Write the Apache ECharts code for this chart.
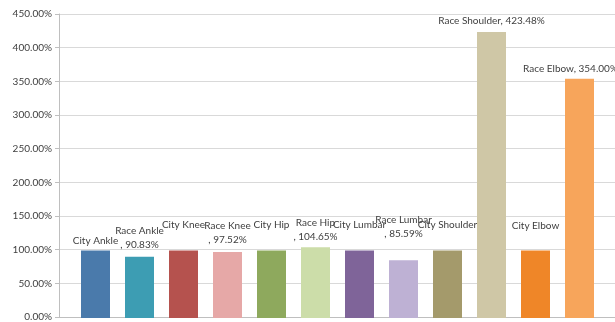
<!DOCTYPE html>
<html>
<head>
<meta charset="utf-8">
<script src="https://cdn.jsdelivr.net/npm/echarts@6/dist/echarts.min.js"></script>
<style>
  html, body { margin: 0; padding: 0; background: #fff; }
  #chart { width: 615px; height: 322px; }
</style>
</head>
<body>
<div id="chart"></div>
<script>
// 数据
var categories = ['City Ankle', 'Race Ankle', 'City Knee', 'Race Knee', 'City Hip', 'Race Hip',
    'City Lumbar', 'Race Lumbar', 'City Shoulder', 'Race Shoulder', 'City Elbow', 'Race Elbow'];
var values = [100, 90.83, 100, 97.52, 100, 104.65, 100, 85.59, 100, 423.48, 100, 354.00];
var showValue = [false, true, false, true, false, true, false, true, false, true, false, true];
var yTicks = [0, 50, 100, 150, 200, 250, 300, 350, 400, 450];

// 样式
var barColors = ['#4a7aab', '#3d9db3', '#b5524e', '#e6a8a7', '#8ea95d', '#ccdda9',
    '#7f6499', '#beb1d4', '#a49a6b', '#cfc7a6', '#ef8628', '#f7a55b'];
var wrapLabel = [false, true, false, true, false, true, false, true, false, false, false, false];
var labelOffset = [[0, 2], [0, 0], [0, -14], [0, 0], [0, -14], [0, 1],
    [0, -14], [0, -14], [0, -14], [0, 1], [0, -13], [-9, 2]];

var fontFamily = 'Lato, "Liberation Sans", sans-serif';
var textColor = '#404040';

var myChart = echarts.init(document.getElementById('chart'));

var barData = values.map(function (v, i) {
    return {
        value: v,
        itemStyle: { color: barColors[i] },
        label: { offset: labelOffset[i] }
    };
});

var option = {
    animation: false,
    grid: [
        { left: 59, right: 0, top: 14, bottom: 4 },
        { left: 73.5, right: 13.5, top: 14, bottom: 4 }
    ],
    xAxis: [
        {
            gridIndex: 0, type: 'value', min: 0, max: 1,
            axisLine: { show: true, lineStyle: { color: '#bfbfbf' } },
            axisTick: { show: false }, axisLabel: { show: false }, splitLine: { show: false }
        },
        {
            gridIndex: 1, type: 'category', data: categories,
            axisLine: { show: false }, axisTick: { show: false }, axisLabel: { show: false }
        }
    ],
    yAxis: [
        {
            gridIndex: 0, type: 'value', min: yTicks[0], max: yTicks[yTicks.length - 1], interval: 50,
            axisLine: { show: true, lineStyle: { color: '#bfbfbf' } },
            axisTick: { show: true, length: 4, lineStyle: { color: '#bfbfbf' } },
            axisLabel: {
                margin: 7, color: textColor, fontFamily: fontFamily, fontSize: 10,
                formatter: function (v) { return v.toFixed(2) + '%'; }
            },
            splitLine: { show: true, lineStyle: { color: '#d9d9d9' } }
        },
        {
            gridIndex: 1, type: 'value', min: 0, max: 450, show: false
        }
    ],
    series: [{
        type: 'bar',
        xAxisIndex: 1,
        yAxisIndex: 1,
        barWidth: 29,
        data: barData,
        label: {
            show: true,
            position: 'top',
            distance: 5,
            color: textColor,
            fontFamily: fontFamily,
            fontSize: 10,
            lineHeight: 14,
            formatter: function (p) {
                var i = p.dataIndex;
                if (!showValue[i]) return p.name;
                var val = values[i].toFixed(2) + '%';
                return p.name + (wrapLabel[i] ? '\n' : '') + ', ' + val;
            }
        }
    }]
};

myChart.setOption(option);
</script>
</body>
</html>
